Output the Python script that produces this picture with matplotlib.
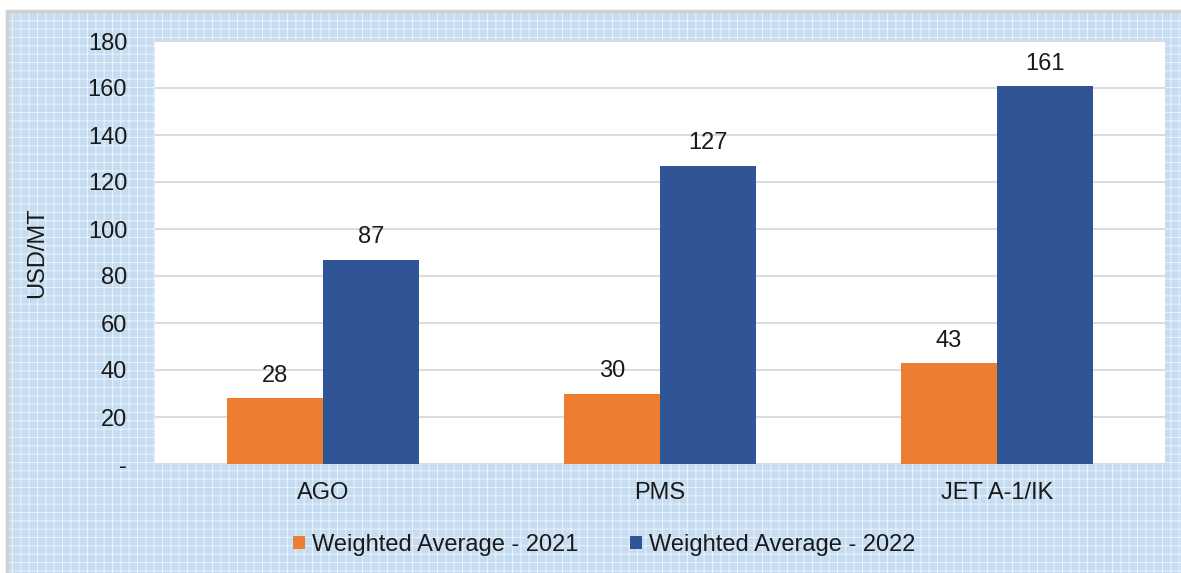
import matplotlib
matplotlib.use("Agg")
import matplotlib.pyplot as plt
from matplotlib.patches import Rectangle
import numpy as np

categories = ["AGO", "PMS", "JET A-1/IK"]
values_2021 = [28, 30, 43]
values_2022 = [87, 127, 161]
series_names = ["Weighted Average - 2021", "Weighted Average - 2022"]
yticks = [0, 20, 40, 60, 80, 100, 120, 140, 160, 180]
ytick_labels = ["-", "20", "40", "60", "80", "100", "120", "140", "160", "180"]

plt.rcParams['font.family'] = ['Liberation Sans', 'DejaVu Sans']
plt.rcParams['hatch.linewidth'] = 0.7

W, H = 1181, 573
FS = 17
fig = plt.figure(figsize=(W / 100, H / 100), dpi=100)
fig.patch.set_facecolor('white')

# patterned background with gray border
bg = Rectangle((7 / W, 0), 1 - 7 / W, 1 - 11 / H, transform=fig.transFigure,
               facecolor='#C6DCF1', edgecolor='#EAF2FB', hatch='++', linewidth=0, zorder=-10)
fig.patches.append(bg)
border = Rectangle((7 / W, -0.01), 1.02 - 7 / W, 1 - 11 / H + 0.01, transform=fig.transFigure,
                   facecolor='none', edgecolor='#D0D0D0', linewidth=2.5, zorder=-9)
fig.patches.append(border)

ax = fig.add_axes([155 / W, 1 - 464 / H, (1165 - 155) / W, (464 - 41) / H])
ax.set_facecolor('white')

x = np.arange(len(categories))
bw = 0.285
c1, c2 = '#ED7D31', '#2F5597'
b1 = ax.bar(x - bw / 2, values_2021, bw, color=c1, label=series_names[0], zorder=3)
b2 = ax.bar(x + bw / 2, values_2022, bw, color=c2, label=series_names[1], zorder=3)

for rects, vals in ((b1, values_2021), (b2, values_2022)):
    for r, v in zip(rects, vals):
        ax.annotate(f"{v}", (r.get_x() + r.get_width() / 2, v), xytext=(0, 8),
                    textcoords='offset points', ha='center', va='bottom', fontsize=FS, color='#1a1a1a')

ax.set_xlim(-0.5, 2.5)
ax.set_ylim(0, 180)
ax.set_yticks(yticks)
ax.set_yticklabels(ytick_labels)
ax.yaxis.grid(True, color='#D9D9D9', linewidth=1.3, zorder=0)
ax.set_axisbelow(True)
for s in ax.spines.values():
    s.set_visible(False)
ax.tick_params(axis='both', length=0, labelsize=FS, labelcolor='#1a1a1a')
ax.tick_params(axis='y', pad=20)
ax.tick_params(axis='x', pad=13)
ax.set_xticks(x)
ax.set_xticklabels(categories)
ax.set_ylabel("USD/MT", fontsize=FS, color='#1a1a1a')
ax.yaxis.set_label_coords(-107 / 1010, 0.5)

leg = fig.legend(handles=[b1, b2], labels=series_names, loc='center',
                 bbox_to_anchor=(604 / W, 1 - 545 / H), ncol=2, frameon=False,
                 fontsize=FS, handlelength=0.5, handleheight=0.5, handletextpad=0.3,
                 columnspacing=2.2)
for t in leg.get_texts():
    t.set_color('#1a1a1a')

fig.savefig("out.png", dpi=100, facecolor=fig.get_facecolor())
